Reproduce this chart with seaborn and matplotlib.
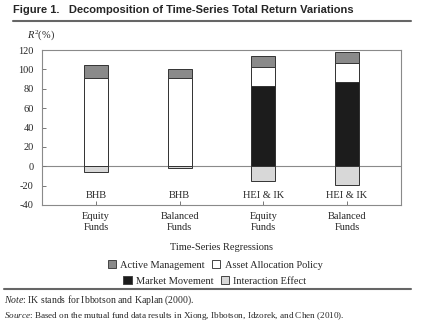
import matplotlib
matplotlib.use("Agg")
import matplotlib.pyplot as plt
import seaborn as sns
import pandas as pd
from matplotlib.lines import Line2D
from matplotlib.patches import Patch

# ---- data ----
keys = ["BHB Equity", "BHB Balanced", "HEI Equity", "HEI Balanced"]
method_labels = ["BHB", "BHB", "HEI & IK", "HEI & IK"]
fund_labels = ["Equity\nFunds", "Balanced\nFunds", "Equity\nFunds", "Balanced\nFunds"]
market = [0, 0, 83, 87]
asset_alloc = [91, 91, 19, 20]
active = [14, 9, 12, 11]
interaction = [-5.5, -1.5, -15, -19.5]
yticks = [-40, -20, 0, 20, 40, 60, 80, 100, 120]

sns.set_theme(style="white")
serif = ["Liberation Serif", "DejaVu Serif"]
plt.rcParams["font.family"] = serif
plt.rcParams["mathtext.fontset"] = "custom"
plt.rcParams["mathtext.rm"] = "Liberation Serif"
plt.rcParams["mathtext.it"] = "Liberation Serif:italic"
plt.rcParams["mathtext.bf"] = "Liberation Serif:bold"

df = pd.DataFrame({
    "key": keys,
    "market": market,
    "asset": asset_alloc,
    "active": active,
    "interaction": interaction,
})
df["top_asset"] = df["market"] + df["asset"]
df["top_active"] = df["top_asset"] + df["active"]

fig = plt.figure(figsize=(4.26, 3.24), dpi=100)
ax = fig.add_axes([0.0986, 1 - 205 / 324, 0.8427, (205 - 50) / 324])

colors = {"active": "#8a8a8a", "asset": "#ffffff", "market": "#1c1c1c", "inter": "#d8d8d8"}
w = 0.29
common = dict(data=df, x="key", order=keys, width=w, edgecolor="#333333", linewidth=0.7, ax=ax)
sns.barplot(y="top_active", color=colors["active"], saturation=1, **common)
sns.barplot(y="top_asset", color=colors["asset"], saturation=1, **common)
sns.barplot(y="market", color=colors["market"], saturation=1, **common)
sns.barplot(y="interaction", color=colors["inter"], saturation=1, **common)

ax.axhline(0, color="#8a8a8a", lw=0.8, zorder=0.5)
ax.set_xlim(-0.645, 3.645)
ax.set_ylim(-40, 120)
ax.set_yticks(yticks)
ax.set_yticklabels([str(v) for v in yticks], fontsize=7.5)
ax.set_xticks(range(len(keys)))
ax.set_xticklabels(fund_labels, fontsize=7.5, linespacing=1.35)
ax.set_xlabel("")
ax.set_ylabel("")
ax.tick_params(axis="both", direction="in", length=3, width=0.7, color="#777777")
ax.tick_params(axis="y", pad=6)
ax.tick_params(axis="x", pad=5)
ax.tick_params(left=True, bottom=True)
for s in ax.spines.values():
    s.set_color("#8a8a8a")
    s.set_linewidth(0.8)

for i, m in enumerate(method_labels):
    ax.text(i, -30, m, ha="center", va="center", fontsize=7.5)

fig.text(27 / 426, 1 - 35 / 324, r"$\mathit{R}^{2}$(%)", fontsize=7.5, ha="left", va="center")
fig.text(221 / 426, 1 - 248 / 324, "Time-Series Regressions", ha="center", va="center", fontsize=7.5)

# Title and rules
fig.text(13 / 426, 1 - 10 / 324, "Figure 1.   Decomposition of Time-Series Total Return Variations",
         ha="left", va="center", fontsize=8, fontweight="bold",
         family=["Liberation Sans", "DejaVu Sans"])
fig.add_artist(Line2D([13 / 426, 411 / 426], [1 - 21 / 324] * 2, color="#666666", lw=1.5))
fig.add_artist(Line2D([4 / 426, 411 / 426], [1 - 289 / 324] * 2, color="#666666", lw=1.5))

# Legend rows
def mk(c):
    return Patch(facecolor=c, edgecolor="#444444", linewidth=0.7)
leg_kw = dict(frameon=False, fontsize=7.5, handlelength=0.8, handleheight=0.8,
              handletextpad=0.4, columnspacing=0.7, borderpad=0, borderaxespad=0, ncol=2)
fig.legend([mk(colors["active"]), mk(colors["asset"])],
           ["Active Management", "Asset Allocation Policy"],
           loc="center", bbox_to_anchor=(215 / 426, 1 - 265 / 324), **leg_kw)
fig.legend([mk(colors["market"]), mk(colors["inter"])],
           ["Market Movement", "Interaction Effect"],
           loc="center", bbox_to_anchor=(215 / 426, 1 - 281 / 324), **leg_kw)

fig.text(4 / 426, 1 - 300 / 324, r"$\mathit{Note}$: IK stands for Ibbotson and Kaplan (2000).",
         ha="left", va="center", fontsize=7)
fig.text(4 / 426, 1 - 316 / 324,
         r"$\mathit{Source}$: Based on the mutual fund data results in Xiong, Ibbotson, Idzorek, and Chen (2010).",
         ha="left", va="center", fontsize=6.6)

fig.savefig("out.png", dpi=100)
